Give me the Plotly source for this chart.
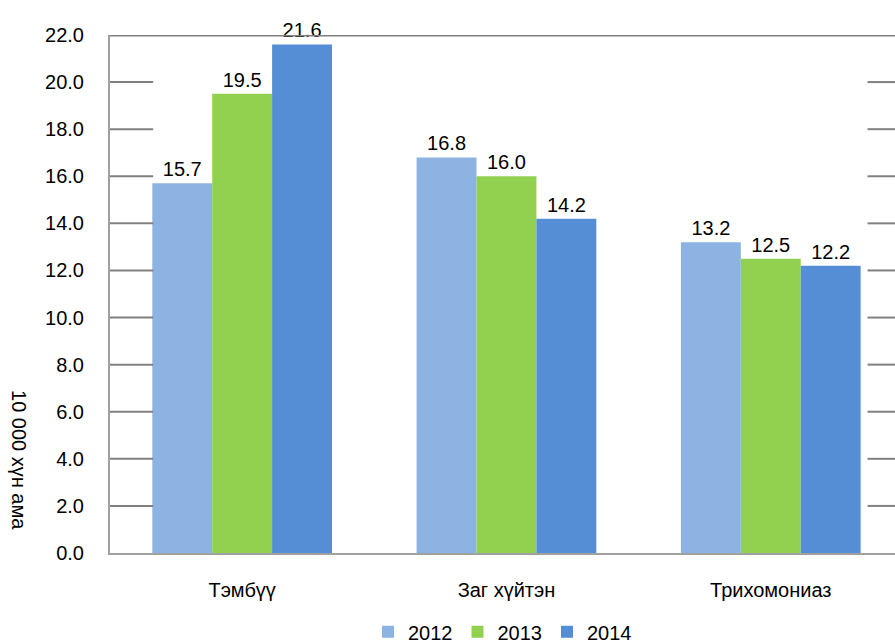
import plotly.graph_objects as go

# Data
categories = ["Тэмбүү", "Заг хүйтэн", "Трихомониаз"]
years = ["2012", "2013", "2014"]
values_2012 = [15.7, 16.8, 13.2]
values_2013 = [19.5, 16.0, 12.5]
values_2014 = [21.6, 14.2, 12.2]
y_ticks = [0, 2, 4, 6, 8, 10, 12, 14, 16, 18, 20, 22]
y_title = "10 000 хүн ама"

colors = ["#8DB3E2", "#92D050", "#558ED5"]
series = [values_2012, values_2013, values_2014]
font_family = "Liberation Sans, Arial, sans-serif"

fig = go.Figure()
for name, vals, col in zip(years, series, colors):
    fig.add_trace(go.Bar(
        x=categories, y=vals, name=name,
        marker=dict(color=col, line=dict(width=0)),
        text=["%.1f" % v for v in vals],
        textposition="outside",
        textfont=dict(size=20, color="black"),
        cliponaxis=False,
    ))

# top line plus the short grid stubs left and right of the bars
fig.add_shape(type="line", xref="paper", x0=0, x1=1, yref="y", y0=y_ticks[-1], y1=y_ticks[-1],
              line=dict(color="#808080", width=3))
for t in y_ticks[1:-1]:
    fig.add_shape(type="line", xref="paper", x0=0, x1=0.055, yref="y", y0=t, y1=t,
                  line=dict(color="#808080", width=2))
    fig.add_shape(type="line", xref="paper", x0=0.965, x1=1, yref="y", y0=t, y1=t,
                  line=dict(color="#808080", width=2))

# y title reads top to bottom
fig.add_annotation(text=y_title, textangle=90, xref="paper", yref="paper",
                   x=-0.115, y=0.18, xanchor="center", yanchor="middle", showarrow=False,
                   font=dict(size=20, color="black"))

fig.update_layout(
    width=895, height=644,
    margin=dict(l=110, r=0, t=35, b=91, autoexpand=False),
    paper_bgcolor="white", plot_bgcolor="white",
    font=dict(family=font_family, size=20, color="black"),
    barmode="group", bargap=0.32, bargroupgap=0,
    showlegend=True,
    legend=dict(orientation="h", x=0.5, xanchor="center", y=-0.152, yanchor="middle",
                font=dict(size=20), itemwidth=30, traceorder="normal"),
)
fig.update_xaxes(range=[-0.5, 2.47], showline=True, linecolor="#A0A0A0", linewidth=2,
                 showgrid=False, ticks="", ticklabelstandoff=18, fixedrange=True,
                 automargin=False)
fig.update_yaxes(range=[0, 22], tickvals=y_ticks, ticktext=["%.1f" % t for t in y_ticks],
                 showline=True, linecolor="#A0A0A0", linewidth=2, showgrid=False,
                 zeroline=False, ticks="", ticklabelstandoff=20, automargin=False)

# page body has an 8px default margin, drop it so the figure fills the window
fig.write_html("out.html", config={"displayModeBar": False},
               post_script="document.body.style.margin='0';")
